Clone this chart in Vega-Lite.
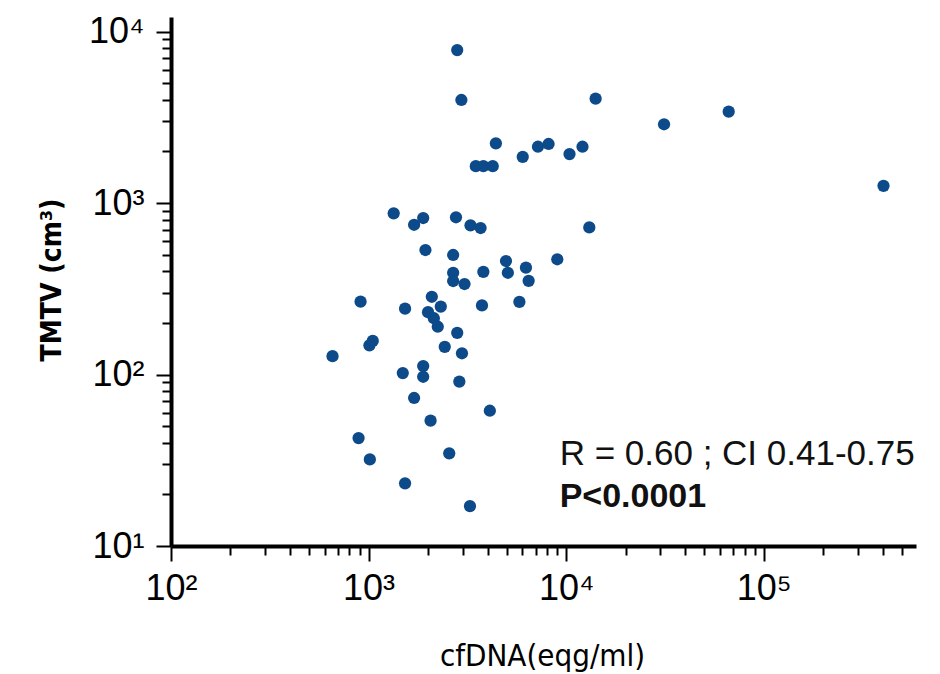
{
  "$schema": "https://vega.github.io/schema/vega-lite/v6.json",
  "width": 745,
  "height": 529,
  "autosize": {"type": "none"},
  "padding": {"left": 171, "top": 17, "right": 24, "bottom": 128},
  "background": "white",
  "config": {"view": {"stroke": null}, "font": "Liberation Sans"},
  "datasets": {
    "points": [
      {"cfDNA": 2810, "TMTV": 7800}, {"cfDNA": 2950, "TMTV": 3990}, {"cfDNA": 14100, "TMTV": 4060},
      {"cfDNA": 4410, "TMTV": 2230}, {"cfDNA": 6030, "TMTV": 1860}, {"cfDNA": 7200, "TMTV": 2130},
      {"cfDNA": 8150, "TMTV": 2210}, {"cfDNA": 10400, "TMTV": 1930}, {"cfDNA": 12100, "TMTV": 2130},
      {"cfDNA": 3490, "TMTV": 1640}, {"cfDNA": 3810, "TMTV": 1640}, {"cfDNA": 4250, "TMTV": 1640},
      {"cfDNA": 1340, "TMTV": 871}, {"cfDNA": 1700, "TMTV": 747}, {"cfDNA": 1890, "TMTV": 818},
      {"cfDNA": 2770, "TMTV": 826}, {"cfDNA": 3280, "TMTV": 741}, {"cfDNA": 3690, "TMTV": 715},
      {"cfDNA": 13100, "TMTV": 721}, {"cfDNA": 31300, "TMTV": 2880}, {"cfDNA": 66500, "TMTV": 3410},
      {"cfDNA": 404000, "TMTV": 1260}, {"cfDNA": 1940, "TMTV": 532}, {"cfDNA": 2680, "TMTV": 498},
      {"cfDNA": 4960, "TMTV": 459}, {"cfDNA": 3810, "TMTV": 397}, {"cfDNA": 5070, "TMTV": 392},
      {"cfDNA": 6260, "TMTV": 420}, {"cfDNA": 6460, "TMTV": 352}, {"cfDNA": 9020, "TMTV": 470},
      {"cfDNA": 2680, "TMTV": 392}, {"cfDNA": 2680, "TMTV": 351}, {"cfDNA": 3060, "TMTV": 337},
      {"cfDNA": 911, "TMTV": 266}, {"cfDNA": 1530, "TMTV": 242}, {"cfDNA": 2090, "TMTV": 284},
      {"cfDNA": 2320, "TMTV": 249}, {"cfDNA": 2000, "TMTV": 231}, {"cfDNA": 2140, "TMTV": 213},
      {"cfDNA": 2240, "TMTV": 190}, {"cfDNA": 3750, "TMTV": 253}, {"cfDNA": 5800, "TMTV": 265},
      {"cfDNA": 2810, "TMTV": 175}, {"cfDNA": 1050, "TMTV": 157}, {"cfDNA": 1010, "TMTV": 148},
      {"cfDNA": 2430, "TMTV": 145}, {"cfDNA": 2970, "TMTV": 133}, {"cfDNA": 657, "TMTV": 128},
      {"cfDNA": 1490, "TMTV": 102}, {"cfDNA": 1890, "TMTV": 112}, {"cfDNA": 1890, "TMTV": 97},
      {"cfDNA": 2880, "TMTV": 91}, {"cfDNA": 1700, "TMTV": 73}, {"cfDNA": 4110, "TMTV": 61.5},
      {"cfDNA": 2060, "TMTV": 53.8}, {"cfDNA": 890, "TMTV": 42.6}, {"cfDNA": 1015, "TMTV": 32},
      {"cfDNA": 2560, "TMTV": 34.7}, {"cfDNA": 1530, "TMTV": 23.2}, {"cfDNA": 3260, "TMTV": 17.1}
    ],
    "noteR": [{"cfDNA": 9270, "TMTV": 29.7, "label": "R = 0.60 ; CI 0.41-0.75"}],
    "noteP": [{"cfDNA": 9270, "TMTV": 16.8, "label": "P<0.0001"}]
  },
  "layer": [
    {
      "data": {"name": "points"},
      "mark": {"type": "circle", "size": 150, "opacity": 1, "color": "#0c4a8a"},
      "encoding": {
        "x": {
          "field": "cfDNA", "type": "quantitative",
          "scale": {"type": "log", "domain": [100, 590000], "nice": false},
          "axis": {
            "title": "cfDNA(eqg/ml)",
            "values": [100, 200, 300, 400, 500, 600, 700, 800, 900, 1000, 2000, 3000, 4000, 5000, 6000, 7000, 8000, 9000, 10000, 20000, 30000, 40000, 50000, 60000, 70000, 80000, 90000, 100000, 200000, 300000, 400000, 500000],
            "labelExpr": "datum.value == 100 ? '10²' : datum.value == 1000 ? '10³' : datum.value == 10000 ? '10⁴' : datum.value == 100000 ? '10⁵' : ''",
            "labelFont": "Liberation Sans", "labelFontSize": 36, "labelColor": "black",
            "labelPadding": 10, "labelFlush": false, "labelOverlap": false, "labelBaseline": "top",
            "domainColor": "black", "domainWidth": 4,
            "tickColor": "black", "tickWidth": 2,
            "tickSize": {"condition": {"test": "indexof([100, 1000, 10000, 100000], datum.value) >= 0", "value": 15}, "value": 9},
            "grid": false,
            "titleFont": "Liberation Sans Narrow, DejaVu Sans Condensed, Liberation Sans, sans-serif", "titleFontSize": 31, "titleFontWeight": "normal", "titleColor": "black",
            "titleX": 371, "titleY": 119, "titleBaseline": "alphabetic", "titleAlign": "center"
          }
        },
        "y": {
          "field": "TMTV", "type": "quantitative",
          "scale": {"type": "log", "domain": [10, 12160], "nice": false},
          "axis": {
            "title": "TMTV (cm³)",
            "values": [10, 20, 30, 40, 50, 60, 70, 80, 90, 100, 200, 300, 400, 500, 600, 700, 800, 900, 1000, 2000, 3000, 4000, 5000, 6000, 7000, 8000, 9000, 10000],
            "labelExpr": "datum.value == 10 ? '10¹' : datum.value == 100 ? '10²' : datum.value == 1000 ? '10³' : datum.value == 10000 ? '10⁴' : ''",
            "labelFont": "Liberation Sans", "labelFontSize": 36, "labelColor": "black",
            "labelPadding": 12, "labelFlush": false, "labelOverlap": false,
            "domainColor": "black", "domainWidth": 4,
            "tickColor": "black", "tickWidth": 2,
            "tickSize": {"condition": {"test": "indexof([10, 100, 1000, 10000], datum.value) >= 0", "value": 15}, "value": 9},
            "grid": false,
            "titleFont": "Liberation Sans Narrow, DejaVu Sans Condensed, Liberation Sans, sans-serif", "titleFontSize": 28, "titleFontWeight": "bold", "titleColor": "black",
            "titleX": -111, "titleY": 262.5, "titleBaseline": "alphabetic", "titleAlign": "center", "titleAngle": -90
          }
        }
      }
    },
    {
      "data": {"name": "noteR"},
      "mark": {"type": "text", "align": "left", "baseline": "alphabetic", "font": "Liberation Sans", "fontSize": 35, "color": "#111111"},
      "encoding": {
        "x": {"field": "cfDNA", "type": "quantitative", "scale": {"type": "log", "domain": [100, 590000], "nice": false}},
        "y": {"field": "TMTV", "type": "quantitative", "scale": {"type": "log", "domain": [10, 12160], "nice": false}},
        "text": {"field": "label"}
      }
    },
    {
      "data": {"name": "noteP"},
      "mark": {"type": "text", "align": "left", "baseline": "alphabetic", "font": "Liberation Sans", "fontSize": 34, "fontWeight": "bold", "color": "#111111"},
      "encoding": {
        "x": {"field": "cfDNA", "type": "quantitative", "scale": {"type": "log", "domain": [100, 590000], "nice": false}},
        "y": {"field": "TMTV", "type": "quantitative", "scale": {"type": "log", "domain": [10, 12160], "nice": false}},
        "text": {"field": "label"}
      }
    }
  ]
}
